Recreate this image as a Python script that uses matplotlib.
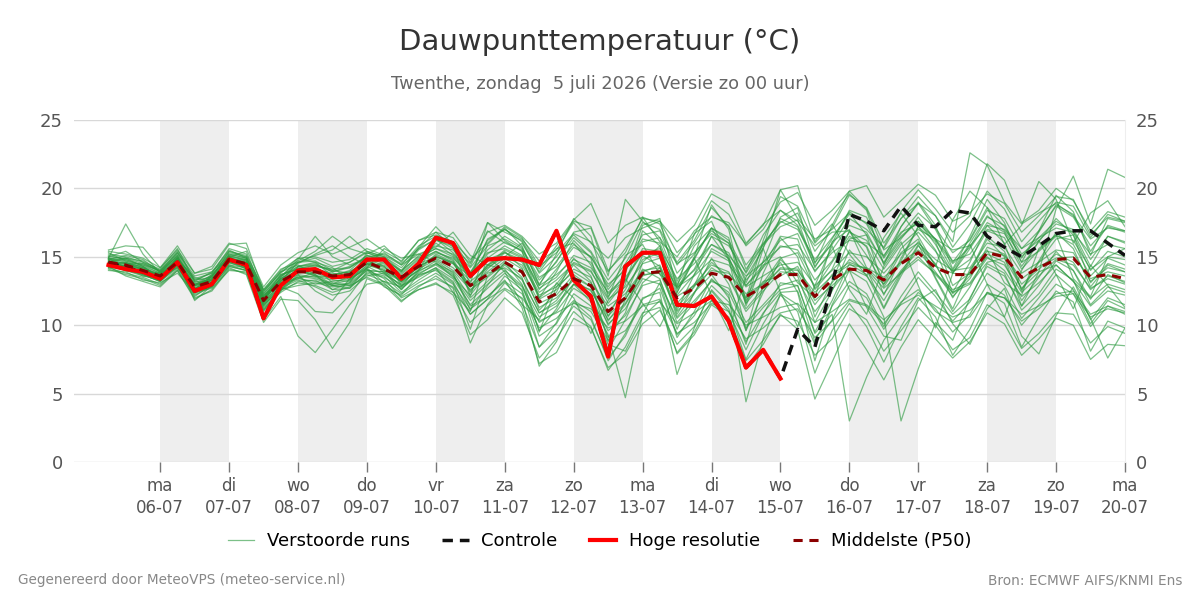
import matplotlib.pyplot as plt
import numpy as np

# time axis: hours after ma 06-07 00:00, 6-hourly steps
hours = list(range(-18, 337, 6))

day_names = ["ma", "di", "wo", "do", "vr", "za", "zo", "ma", "di", "wo", "do", "vr", "za", "zo", "ma"]
dates = ["06-07", "07-07", "08-07", "09-07", "10-07", "11-07", "12-07", "13-07",
         "14-07", "15-07", "16-07", "17-07", "18-07", "19-07", "20-07"]
shaded_days = [0, 2, 4, 6, 8, 10, 12]

# hoge resolutie (ends at 15-07 00:00)
hires = [14.4, 14.1, 13.9, 13.4, 14.6, 12.5, 13.0, 14.8, 14.4, 10.5,
         12.9, 14.0, 14.1, 13.5, 13.6, 14.8, 14.8, 13.4, 14.5, 16.4,
         16.0, 13.6, 14.8, 14.9, 14.8, 14.4, 16.9, 13.3, 12.1, 7.7,
         14.3, 15.3, 15.3, 11.5, 11.4, 12.1, 10.3, 6.9, 8.2, 6.1]

controle = [14.6, 14.2, 13.9, 13.4, 14.6, 12.5, 13.0, 14.8, 14.4, 10.5,
            12.9, 14.0, 14.1, 13.5, 13.6, 14.8, 14.8, 13.4, 14.5, 16.4,
            16.0, 13.6, 14.8, 14.9, 14.8, 14.4, 16.9, 13.3, 12.1, 7.7,
            14.3, 15.3, 15.3, 11.5, 11.4, 12.1, 10.3, 6.9, 8.2, 6.1,
            9.7, 8.4, 13.0, 18.1, 17.6, 16.9, 18.7, 17.3, 17.2, 18.4,
            18.2, 16.5, 15.7, 15.0, 15.8, 16.7, 16.9, 16.9, 16.0, 15.1]

p50 = [14.6, 14.4, 14.0, 13.6, 14.6, 12.8, 13.2, 14.8, 14.5, 11.8,
       13.2, 13.9, 13.9, 13.6, 13.7, 14.6, 14.1, 13.5, 14.3, 14.9,
       14.3, 12.9, 13.7, 14.6, 13.9, 11.7, 12.3, 13.4, 12.9, 11.0,
       12.0, 13.8, 13.9, 12.0, 12.7, 13.8, 13.5, 12.1, 12.8, 13.7,
       13.7, 12.1, 13.3, 14.1, 14.0, 13.3, 14.5, 15.3, 14.2, 13.7,
       13.7, 15.3, 15.0, 13.5, 14.2, 14.8, 14.9, 13.5, 13.7, 13.4]

members = [
    [15.0, 15.4, 14.6, 13.9, 15.2, 13.1, 13.6, 15.3, 15.0, 12.1, 13.6, 14.3, 14.5, 13.9, 14.2, 15.1, 14.8, 14.0, 15.0, 15.6,
     15.2, 13.8, 14.9, 15.8, 15.1, 12.9, 13.7, 14.8, 14.2, 12.4, 13.5, 15.2, 15.6, 13.4, 14.5, 15.9, 15.1, 13.6, 14.6, 15.7,
     15.9, 14.0, 15.3, 16.2, 16.0, 15.1, 16.8, 17.4, 16.3, 15.5, 15.8, 17.3, 17.0, 15.6, 16.4, 17.1, 16.8, 15.2, 15.9, 15.6],
    [14.2, 13.8, 13.5, 13.0, 14.1, 12.2, 12.8, 14.3, 14.0, 11.2, 12.6, 13.1, 12.9, 12.4, 12.8, 13.7, 13.2, 12.3, 13.1, 13.8,
     13.0, 11.2, 12.1, 13.2, 12.3, 9.8, 10.5, 11.8, 11.0, 8.9, 9.6, 11.5, 11.9, 9.4, 10.2, 11.6, 11.0, 9.0, 9.8, 10.9,
     11.2, 9.1, 10.3, 11.8, 11.4, 10.1, 11.7, 12.6, 11.0, 10.2, 10.6, 12.4, 12.0, 10.3, 11.2, 12.3, 12.5, 10.8, 11.4, 11.0],
    [14.8, 14.9, 14.3, 13.5, 15.0, 12.5, 13.0, 15.1, 14.8, 11.5, 12.9, 13.5, 13.0, 13.2, 13.4, 14.2, 14.6, 13.8, 14.9, 15.6,
     15.0, 13.4, 15.2, 16.1, 15.4, 12.6, 14.1, 15.7, 15.0, 12.8, 14.5, 16.6, 16.9, 13.8, 15.2, 16.9, 16.0, 13.1, 15.7, 17.8,
     17.2, 14.3, 16.0, 18.4, 17.9, 15.0, 17.2, 18.9, 17.0, 14.6, 16.3, 18.6, 17.2, 14.9, 16.8, 18.8, 18.1, 15.4, 17.3, 16.9],
    [14.5, 14.1, 13.9, 13.3, 14.4, 12.9, 13.4, 14.6, 14.2, 11.6, 12.8, 12.3, 11.0, 10.9, 12.2, 13.9, 13.6, 12.4, 13.3, 14.1,
     13.2, 10.8, 11.9, 13.6, 12.6, 9.2, 10.1, 12.3, 11.4, 8.6, 8.1, 10.6, 11.8, 7.9, 9.3, 11.5, 10.6, 7.4, 8.9, 10.7,
     10.3, 7.8, 9.0, 11.2, 10.4, 8.1, 9.6, 11.3, 10.0, 8.2, 9.1, 11.5, 10.6, 8.3, 9.4, 10.9, 10.8, 8.7, 9.9, 9.4],
    [14.9, 17.4, 15.2, 13.8, 14.8, 13.5, 13.1, 15.0, 15.4, 12.3, 13.7, 14.1, 14.4, 14.0, 13.8, 14.9, 14.3, 13.1, 14.0, 15.2,
     14.6, 12.4, 14.1, 15.3, 14.8, 11.9, 12.6, 14.1, 13.5, 10.9, 12.6, 14.8, 15.3, 12.2, 13.7, 15.4, 14.7, 11.6, 13.1, 14.9,
     15.3, 12.7, 14.6, 16.5, 15.8, 13.2, 15.6, 16.8, 15.4, 13.9, 14.8, 16.9, 16.4, 14.1, 15.5, 16.6, 15.9, 13.6, 14.9, 14.4],
    [14.3, 13.6, 13.2, 12.8, 14.0, 12.0, 12.5, 14.1, 13.8, 10.4, 12.1, 9.2, 8.0, 9.7, 11.5, 13.0, 13.2, 12.8, 14.4, 16.0,
     15.1, 13.6, 16.3, 17.0, 16.1, 13.8, 15.0, 16.6, 15.4, 13.3, 14.9, 17.5, 17.0, 14.6, 16.2, 18.6, 17.2, 14.4, 16.0, 17.5,
     18.2, 15.4, 17.1, 19.5, 18.6, 16.0, 17.8, 19.4, 18.0, 15.7, 17.4, 19.8, 18.5, 16.1, 17.6, 19.0, 18.7, 16.4, 18.1, 17.6],
    [14.7, 14.5, 14.1, 13.4, 14.9, 12.6, 13.6, 14.9, 14.3, 12.0, 13.4, 14.0, 14.2, 13.1, 12.9, 14.0, 13.9, 12.6, 13.9, 14.7,
     13.8, 11.1, 12.9, 14.6, 13.0, 9.6, 11.2, 13.6, 12.1, 8.2, 10.4, 13.1, 14.2, 10.6, 12.3, 14.9, 13.0, 9.6, 12.4, 14.8,
     13.6, 10.2, 12.5, 15.5, 14.1, 11.3, 13.8, 15.9, 13.4, 11.0, 12.8, 15.2, 14.6, 11.8, 13.5, 15.4, 14.0, 11.9, 13.7, 13.1],
    [14.4, 14.2, 13.8, 13.7, 14.7, 11.8, 12.9, 15.2, 14.9, 12.4, 13.9, 14.4, 13.7, 12.6, 13.1, 14.8, 15.3, 14.4, 15.2, 14.6,
     13.5, 12.2, 13.8, 14.2, 13.4, 10.9, 11.6, 13.0, 12.6, 10.1, 11.2, 13.4, 13.0, 10.5, 11.8, 13.2, 12.7, 10.2, 11.5, 12.9,
     13.3, 11.0, 12.6, 14.2, 13.6, 11.8, 13.9, 15.0, 13.7, 12.4, 13.0, 14.6, 14.9, 12.7, 13.9, 14.4, 13.2, 12.0, 13.0, 12.6],
    [15.1, 14.8, 14.4, 14.0, 15.4, 13.4, 13.8, 15.6, 15.2, 12.6, 14.1, 14.6, 15.1, 15.5, 16.5, 15.4, 15.0, 14.2, 15.6, 16.8,
     16.4, 14.6, 17.5, 16.8, 16.2, 14.1, 15.8, 17.6, 17.2, 14.0, 15.3, 17.9, 17.4, 14.4, 16.0, 18.0, 17.3, 14.1, 15.9, 17.2,
     17.7, 14.2, 16.3, 18.3, 17.4, 14.9, 16.7, 18.2, 17.1, 15.3, 16.2, 18.4, 17.8, 15.6, 16.9, 18.7, 17.9, 15.8, 17.2, 16.8],
    [14.0, 13.9, 13.3, 13.1, 13.8, 12.4, 12.7, 14.0, 13.9, 11.1, 12.5, 13.6, 13.4, 12.9, 13.1, 14.1, 13.4, 12.0, 12.6, 13.1,
     12.2, 9.3, 10.4, 12.0, 10.9, 7.6, 9.0, 11.0, 9.9, 6.7, 8.4, 10.9, 11.3, 8.0, 9.5, 11.8, 10.3, 6.9, 8.6, 10.8,
     9.7, 4.6, 7.3, 10.1, 8.2, 6.0, 8.4, 10.4, 9.0, 7.6, 8.8, 10.9, 10.1, 7.8, 9.0, 10.5, 10.0, 7.5, 8.6, 8.5],
    [14.6, 14.6, 14.2, 13.7, 14.5, 13.0, 13.4, 14.8, 14.6, 11.9, 13.3, 13.8, 14.0, 13.7, 13.9, 14.7, 14.2, 13.6, 14.5, 15.0,
     14.6, 13.2, 14.2, 15.0, 14.4, 12.2, 12.8, 13.9, 13.1, 11.4, 12.3, 14.0, 14.2, 12.1, 12.9, 14.0, 13.8, 12.3, 13.0, 14.1,
     14.0, 12.4, 13.6, 14.4, 14.2, 13.5, 14.6, 15.5, 14.3, 13.8, 13.7, 15.4, 15.1, 13.4, 14.3, 14.9, 15.0, 13.4, 13.9, 13.6],
    [15.2, 15.0, 14.6, 14.1, 15.6, 13.2, 13.9, 15.1, 14.7, 12.2, 13.1, 13.7, 13.5, 13.0, 13.6, 14.5, 14.0, 13.3, 14.7, 15.4,
     14.8, 12.8, 14.4, 15.5, 14.9, 12.0, 13.0, 14.6, 14.0, 11.6, 13.2, 15.4, 15.0, 12.7, 14.1, 16.5, 15.8, 13.9, 16.6, 18.4,
     17.3, 14.6, 15.9, 17.8, 17.0, 15.7, 18.3, 19.9, 18.5, 16.8, 18.0, 21.8, 20.6, 17.5, 18.4, 20.0, 19.1, 16.9, 18.3, 17.9],
    [14.2, 14.4, 13.7, 13.2, 14.3, 12.1, 13.0, 14.4, 14.0, 11.4, 12.7, 13.3, 12.8, 12.2, 12.5, 13.6, 13.8, 12.9, 13.8, 14.4,
     13.6, 11.8, 13.0, 14.0, 12.9, 10.6, 11.4, 13.0, 11.7, 9.3, 4.7, 10.8, 13.1, 9.1, 11.0, 13.4, 12.2, 4.4, 9.0, 12.3,
     11.5, 8.6, 10.4, 12.9, 12.0, 9.7, 11.6, 13.5, 12.1, 10.3, 11.7, 13.8, 12.9, 10.5, 12.0, 13.7, 12.6, 10.1, 11.8, 11.2],
    [14.8, 14.5, 14.5, 13.9, 14.9, 13.3, 13.5, 15.4, 15.0, 12.5, 13.8, 14.9, 14.6, 13.6, 14.0, 15.1, 14.7, 13.4, 14.2, 15.1,
     14.5, 13.6, 15.5, 16.5, 15.7, 13.0, 14.7, 16.4, 15.3, 12.6, 14.2, 16.3, 16.0, 13.0, 14.9, 17.1, 16.2, 13.8, 15.9, 17.6,
     17.0, 14.8, 16.4, 18.1, 17.5, 15.6, 17.8, 18.9, 18.0, 16.1, 22.6, 21.7, 19.0, 17.4, 18.2, 18.9, 18.0, 16.3, 17.1, 16.9],
    [14.5, 14.0, 13.6, 13.5, 14.2, 12.7, 13.3, 14.5, 14.4, 11.7, 13.0, 13.9, 13.8, 13.4, 13.5, 14.3, 13.7, 13.0, 14.1, 14.8,
     14.0, 12.6, 13.5, 14.5, 13.8, 11.3, 12.0, 13.3, 12.5, 10.4, 11.6, 13.7, 13.8, 11.0, 12.4, 14.2, 13.4, 11.0, 12.5, 13.9,
     13.8, 11.5, 13.1, 14.8, 14.0, 12.3, 14.0, 15.4, 13.9, 12.1, 13.4, 15.7, 15.2, 13.0, 14.1, 15.2, 14.6, 12.6, 13.6, 13.2],
    [15.5, 15.8, 15.7, 14.2, 15.8, 13.8, 14.1, 15.9, 16.0, 12.5, 13.9, 14.7, 15.4, 16.5, 15.6, 15.2, 15.8, 14.6, 16.2, 16.6,
     16.1, 14.3, 16.9, 16.0, 15.5, 13.3, 14.6, 16.8, 17.1, 13.6, 19.2, 17.6, 16.4, 13.2, 15.8, 17.1, 16.4, 11.4, 14.7, 17.9,
     18.6, 14.5, 17.3, 19.8, 18.5, 15.5, 16.4, 17.6, 15.9, 13.8, 15.6, 17.5, 16.8, 14.3, 16.1, 17.8, 16.6, 14.0, 15.4, 15.0],
    [14.3, 14.3, 13.9, 13.4, 14.4, 12.3, 12.9, 14.6, 14.1, 11.3, 12.4, 13.2, 13.3, 12.6, 12.7, 13.8, 13.5, 12.7, 13.6, 14.2,
     13.4, 11.5, 12.7, 13.8, 12.8, 10.2, 11.0, 12.7, 11.9, 9.6, 10.7, 12.9, 13.3, 10.2, 11.6, 13.3, 12.4, 9.8, 11.3, 12.6,
     12.9, 9.4, 10.8, 3.0, 6.2, 8.9, 10.7, 12.4, 11.2, 9.5, 10.8, 13.0, 12.2, 10.0, 11.5, 13.0, 12.3, 9.9, 11.4, 10.8],
    [14.7, 14.2, 13.8, 13.6, 14.5, 12.6, 13.1, 14.7, 14.4, 11.7, 13.1, 13.5, 13.6, 13.3, 13.2, 14.4, 14.0, 12.8, 13.7, 14.5,
     13.9, 12.0, 13.2, 14.4, 13.3, 10.9, 11.8, 13.5, 12.8, 10.0, 11.5, 13.6, 14.0, 11.3, 12.8, 14.6, 13.5, 11.2, 12.7, 14.2,
     14.1, 11.8, 12.9, 14.0, 13.2, 10.6, 3.0, 6.8, 10.2, 8.9, 12.0, 14.3, 13.6, 11.4, 12.9, 14.7, 14.0, 11.5, 12.8, 12.4],
    [14.9, 14.7, 14.4, 13.8, 15.1, 12.4, 13.6, 15.0, 14.2, 11.9, 13.5, 14.8, 16.5, 15.0, 14.4, 14.9, 13.8, 12.6, 14.0, 16.2,
     15.8, 12.1, 15.9, 17.1, 15.8, 12.9, 15.2, 17.8, 16.5, 12.1, 13.8, 17.3, 17.8, 12.6, 15.0, 18.8, 17.0, 11.6, 15.6, 19.9,
     20.2, 16.1, 17.9, 19.6, 18.4, 14.4, 17.2, 19.0, 17.3, 14.1, 16.5, 19.2, 17.5, 14.6, 16.9, 19.5, 18.3, 15.1, 17.8, 17.5],
    [14.6, 14.3, 14.1, 13.6, 14.8, 12.9, 13.2, 14.9, 14.7, 12.0, 13.2, 14.1, 14.1, 13.8, 13.6, 14.5, 14.4, 13.5, 14.6, 15.3,
     14.9, 13.7, 14.8, 15.3, 14.6, 12.4, 13.3, 14.5, 13.9, 11.9, 12.8, 14.5, 14.9, 12.8, 13.6, 14.8, 14.4, 12.8, 13.6, 14.4,
     14.6, 12.9, 14.0, 15.3, 15.0, 13.8, 15.2, 16.0, 14.8, 14.0, 14.2, 16.0, 15.7, 13.8, 14.6, 15.5, 15.3, 13.2, 14.2, 13.9],
    [14.1, 13.7, 13.4, 12.9, 14.0, 11.9, 12.6, 14.2, 13.7, 10.2, 11.9, 11.8, 10.4, 8.3, 10.2, 13.4, 12.9, 11.7, 12.8, 13.6,
     12.7, 8.7, 11.5, 13.1, 11.9, 7.0, 8.8, 11.7, 10.6, 7.4, 9.4, 12.0, 12.4, 6.4, 9.8, 12.6, 11.2, 7.5, 10.1, 12.2,
     11.0, 6.5, 9.6, 11.6, 9.9, 7.3, 9.9, 12.0, 10.6, 7.8, 9.7, 12.4, 11.6, 8.4, 10.6, 12.5, 11.7, 8.1, 10.3, 9.8],
    [14.8, 15.1, 14.8, 13.9, 15.3, 13.6, 13.9, 15.5, 14.9, 12.3, 13.6, 14.6, 14.9, 14.3, 14.6, 15.3, 14.8, 13.9, 15.1, 15.8,
     15.5, 14.2, 15.8, 16.3, 15.6, 13.5, 14.3, 15.9, 15.0, 13.0, 14.0, 16.1, 16.4, 14.5, 15.3, 16.7, 16.0, 13.3, 14.6, 16.2,
     16.7, 13.9, 15.5, 17.3, 16.8, 14.5, 16.3, 17.9, 16.2, 14.5, 15.7, 17.9, 17.3, 15.2, 16.2, 17.4, 17.0, 14.8, 16.5, 16.0],
    [14.4, 14.0, 13.7, 13.2, 14.2, 12.5, 12.8, 14.3, 14.0, 11.5, 12.6, 12.9, 13.1, 12.8, 12.9, 13.5, 13.0, 12.1, 12.9, 13.4,
     12.8, 10.8, 11.9, 12.7, 12.0, 10.3, 10.9, 11.6, 11.2, 9.8, 10.3, 11.4, 11.7, 10.1, 10.9, 11.8, 11.5, 10.0, 10.6, 11.3,
     11.6, 10.2, 11.0, 11.9, 11.5, 10.4, 11.5, 12.2, 11.4, 10.6, 11.1, 12.3, 12.0, 10.8, 11.4, 12.1, 12.3, 10.6, 11.2, 10.9],
    [14.6, 14.4, 14.0, 13.7, 14.6, 12.8, 13.3, 14.7, 14.3, 11.6, 13.0, 13.4, 13.9, 13.7, 13.9, 14.6, 14.3, 13.2, 14.3, 15.0,
     14.5, 12.9, 14.4, 14.1, 12.5, 8.4, 10.2, 13.0, 12.3, 9.1, 10.9, 14.6, 15.8, 11.1, 13.7, 16.5, 14.8, 9.6, 13.8, 16.4,
     15.0, 10.6, 13.2, 16.3, 16.6, 12.8, 14.7, 17.2, 15.5, 12.4, 14.6, 17.3, 16.0, 12.5, 14.6, 16.3, 16.6, 13.1, 14.5, 14.1],
    [15.3, 14.7, 14.2, 13.5, 14.9, 13.0, 13.3, 15.2, 14.9, 12.2, 13.4, 14.2, 14.3, 14.1, 14.2, 15.0, 15.2, 14.5, 15.6, 16.3,
     15.6, 13.9, 15.3, 15.6, 15.0, 12.7, 13.5, 15.1, 14.6, 12.3, 13.3, 15.6, 15.4, 12.9, 14.0, 15.9, 15.3, 12.9, 14.2, 15.8,
     15.5, 13.3, 14.7, 16.8, 16.2, 14.1, 15.9, 17.0, 16.3, 14.7, 15.2, 17.0, 16.7, 14.6, 15.4, 16.5, 16.2, 14.1, 15.0, 14.8],
    [14.5, 14.5, 14.3, 13.4, 14.6, 12.4, 12.8, 14.9, 14.6, 11.8, 13.3, 13.9, 13.7, 13.0, 13.3, 14.2, 13.1, 11.8, 12.6, 13.0,
     12.4, 10.2, 11.4, 12.6, 11.6, 8.4, 9.6, 11.4, 10.4, 7.6, 9.2, 11.9, 12.7, 9.3, 10.7, 12.9, 11.7, 8.8, 10.9, 12.4,
     12.5, 8.8, 11.4, 13.2, 12.3, 9.9, 12.1, 13.9, 12.4, 10.8, 11.9, 14.5, 13.8, 11.1, 12.3, 14.1, 13.3, 10.4, 12.0, 11.5],
    [14.9, 14.6, 14.0, 13.8, 15.1, 12.9, 13.7, 15.0, 14.5, 12.1, 13.4, 14.3, 14.4, 13.9, 14.3, 14.9, 14.5, 13.7, 14.8, 15.4,
     14.7, 12.5, 14.3, 15.4, 14.2, 11.1, 12.4, 14.9, 13.6, 10.3, 12.1, 15.1, 14.3, 10.8, 12.9, 15.6, 14.9, 12.0, 14.3, 16.5,
     16.3, 12.6, 14.1, 16.9, 15.7, 12.2, 14.9, 17.2, 16.1, 12.9, 13.8, 16.3, 15.0, 11.4, 13.9, 18.5, 20.9, 17.4, 21.4, 20.8],
    [14.2, 14.2, 13.6, 13.3, 14.3, 12.7, 13.0, 14.4, 14.2, 11.4, 12.8, 13.4, 13.2, 12.9, 13.0, 14.0, 13.9, 13.2, 14.3, 14.9,
     14.2, 12.8, 13.9, 14.9, 14.1, 11.6, 12.2, 13.7, 12.8, 10.7, 11.9, 13.9, 14.4, 11.6, 13.0, 14.4, 13.9, 11.8, 13.2, 13.6,
     14.3, 12.0, 13.7, 14.6, 14.1, 12.7, 13.8, 14.8, 13.8, 12.6, 13.1, 14.9, 14.4, 12.4, 13.6, 14.8, 14.4, 12.7, 13.4, 13.0],
    [14.7, 14.8, 14.3, 13.8, 14.7, 13.0, 13.4, 14.9, 14.4, 11.9, 13.2, 14.0, 13.6, 13.5, 13.8, 14.5, 14.1, 13.2, 14.0, 14.5,
     13.7, 11.4, 12.1, 13.3, 11.3, 7.2, 8.0, 10.5, 9.8, 6.9, 7.9, 10.1, 11.1, 8.6, 9.9, 12.5, 11.0, 8.2, 10.8, 13.1,
     12.9, 9.5, 11.8, 14.5, 13.7, 11.2, 13.6, 15.8, 14.5, 12.0, 13.9, 16.5, 15.4, 12.6, 14.7, 16.8, 15.6, 12.8, 14.4, 13.9],
    [15.0, 14.9, 14.7, 14.0, 15.3, 13.3, 13.8, 15.4, 15.1, 12.6, 14.0, 14.9, 15.0, 14.6, 14.8, 15.6, 15.1, 14.4, 15.8, 16.5,
     16.1, 14.8, 16.0, 17.2, 16.4, 14.3, 15.3, 16.7, 16.1, 13.9, 15.6, 17.8, 17.6, 15.3, 16.6, 19.1, 18.1, 15.8, 17.0, 19.0,
     19.7, 17.3, 18.4, 19.8, 20.2, 17.9, 19.1, 20.3, 19.5, 17.6, 18.2, 19.6, 18.9, 16.8, 18.0, 19.4, 19.2, 16.6, 17.9, 17.6],
    [14.4, 14.6, 14.1, 13.5, 14.9, 12.7, 13.1, 14.6, 14.6, 11.7, 13.5, 14.5, 15.2, 15.8, 15.0, 14.4, 14.9, 13.9, 15.7, 17.2,
     15.9, 13.0, 17.5, 16.2, 15.4, 12.0, 13.9, 16.2, 14.9, 10.6, 13.0, 16.9, 15.8, 12.4, 14.8, 17.1, 15.0, 11.9, 16.2, 19.4,
     18.7, 16.0, 17.4, 15.2, 13.6, 16.4, 18.2, 16.5, 14.3, 17.7, 19.8, 18.6, 15.9, 17.3, 20.5, 19.2, 16.0, 18.2, 19.1, 17.2],
    [14.9, 14.2, 13.7, 13.2, 14.5, 12.9, 13.5, 14.8, 14.1, 11.1, 12.6, 13.7, 12.5, 11.8, 13.4, 14.1, 12.8, 12.2, 13.7, 14.0,
     13.1, 9.7, 13.6, 14.7, 13.5, 9.5, 12.8, 14.4, 13.2, 8.8, 11.9, 14.1, 13.4, 9.7, 12.4, 13.7, 12.0, 8.6, 12.9, 14.6,
     12.4, 7.4, 11.5, 14.0, 11.3, 9.2, 8.9, 11.8, 12.6, 10.1, 8.6, 11.2, 12.7, 9.2, 7.9, 10.7, 12.8, 10.5, 7.6, 9.8],
    [14.6, 14.9, 14.5, 14.0, 15.0, 13.2, 13.1, 15.0, 14.8, 12.0, 13.7, 14.1, 13.6, 12.9, 12.7, 14.2, 15.6, 14.9, 15.2, 15.7,
     16.8, 15.1, 14.4, 15.0, 16.0, 13.9, 15.6, 16.0, 14.4, 12.0, 15.1, 15.9, 13.7, 12.8, 16.7, 17.6, 14.8, 12.9, 14.4, 15.0,
     13.1, 12.0, 16.1, 17.0, 14.2, 13.0, 15.3, 16.3, 13.5, 11.2, 14.1, 15.5, 13.1, 12.2, 15.6, 16.6, 13.4, 12.1, 15.0, 15.6],
    [14.3, 14.0, 13.8, 13.8, 14.4, 12.6, 13.7, 15.0, 14.2, 11.0, 12.5, 14.3, 14.6, 14.2, 13.3, 15.3, 14.9, 12.9, 13.5, 14.2,
     12.4, 11.0, 15.0, 13.9, 11.5, 10.4, 13.1, 12.0, 9.4, 11.8, 13.4, 11.6, 9.9, 12.4, 14.9, 12.2, 9.6, 13.5, 15.6, 12.4,
     9.9, 12.9, 15.8, 12.6, 10.8, 14.3, 16.1, 12.9, 9.8, 13.8, 15.9, 13.0, 10.6, 14.0, 16.2, 13.7, 11.2, 14.4, 12.9, 11.3],
    [15.4, 15.2, 14.9, 14.2, 15.5, 13.8, 14.3, 16.0, 15.6, 12.8, 14.4, 15.3, 15.8, 15.2, 15.7, 16.3, 15.4, 14.7, 16.2, 16.8,
     15.7, 14.5, 16.8, 17.3, 16.5, 15.2, 16.0, 17.7, 18.9, 16.0, 17.3, 17.9, 16.1, 15.0, 16.9, 17.9, 17.5, 15.9, 17.4, 18.4,
     17.6, 15.8, 16.8, 16.9, 15.1, 13.0, 14.5, 16.1, 14.4, 12.3, 13.6, 15.0, 14.0, 12.1, 13.1, 14.4, 13.2, 11.4, 12.5, 12.2],
    [14.6, 14.3, 14.2, 13.7, 14.7, 12.9, 13.3, 14.7, 14.8, 12.0, 13.2, 14.6, 14.7, 14.0, 14.6, 15.4, 15.0, 14.0, 15.5, 16.3,
     15.3, 13.8, 16.2, 17.0, 16.3, 14.7, 15.5, 17.5, 16.0, 14.9, 16.4, 17.1, 17.6, 16.1, 17.3, 19.6, 18.9, 16.0, 17.3, 19.9,
     17.8, 16.3, 17.0, 18.2, 16.6, 14.6, 16.5, 17.6, 16.3, 14.0, 16.0, 18.0, 16.9, 15.0, 16.4, 17.6, 16.8, 14.3, 16.5, 16.1],
]

plt.rcParams['font.family'] = ['DejaVu Sans']

fig = plt.figure(figsize=(12, 6), dpi=100)
ax = fig.add_axes([0.0617, 0.23, 0.8758, 0.57])

for d in shaded_days:
    ax.axvspan(d * 24, d * 24 + 24, color='#eeeeee', lw=0, zorder=0)

for k, m in enumerate(members):
    ax.plot(hours, m, color='#2c9a40', alpha=0.62, lw=0.9, zorder=2,
            label='Verstoorde runs' if k == 0 else None)

ax.plot(hours, controle, color='#111111', lw=2.5, ls=(0, (3, 2)), zorder=3, label='Controle')
ax.plot(hours[:len(hires)], hires, color='#ff0000', lw=3, zorder=4, label='Hoge resolutie')
ax.plot(hours, p50, color='#8b0000', lw=2.2, ls=(0, (3, 2.2)), zorder=5, label='Middelste (P50)')

ax.set_xlim(-30, 336)
ax.set_ylim(0, 25)
ax.set_yticks([0, 5, 10, 15, 20, 25])
ax.grid(axis='y', color='#d8d8d8', lw=1)
ax.set_axisbelow(True)
for s in ax.spines.values():
    s.set_visible(False)
ax.spines['right'].set_visible(True)
ax.spines['right'].set_color('#eeeeee')

ax.set_xticks([i * 24 for i in range(len(dates))])
ax.set_xticklabels([f"{n}\n{d}" for n, d in zip(day_names, dates)], fontsize=12, color='#555555', linespacing=1.3)
ax.tick_params(axis='x', length=7, color='#777777', width=1, pad=4)
ax.tick_params(axis='y', length=0, labelsize=13, labelcolor='#555555', pad=8)
ax.tick_params(axis='y', which='both', labelright=True)

fig.text(0.5, 0.93, "Dauwpunttemperatuur (°C)", ha='center', va='center', fontsize=21, color='#333333')
fig.text(0.5, 0.86, "Twenthe, zondag  5 juli 2026 (Versie zo 00 uur)", ha='center', va='center', fontsize=12.8, color='#666666')
fig.text(0.015, 0.033, "Gegenereerd door MeteoVPS (meteo-service.nl)", ha='left', va='center', fontsize=9.8, color='#888888')
fig.text(0.985, 0.033, "Bron: ECMWF AIFS/KNMI Ens", ha='right', va='center', fontsize=9.8, color='#888888')

handles, labels = ax.get_legend_handles_labels()
fig.legend(handles, labels, loc='center', bbox_to_anchor=(0.5, 0.098), ncol=4, frameon=False,
           fontsize=13, handlelength=1.45, columnspacing=1.8, handletextpad=0.7)

fig.savefig('out.png', dpi=100)
